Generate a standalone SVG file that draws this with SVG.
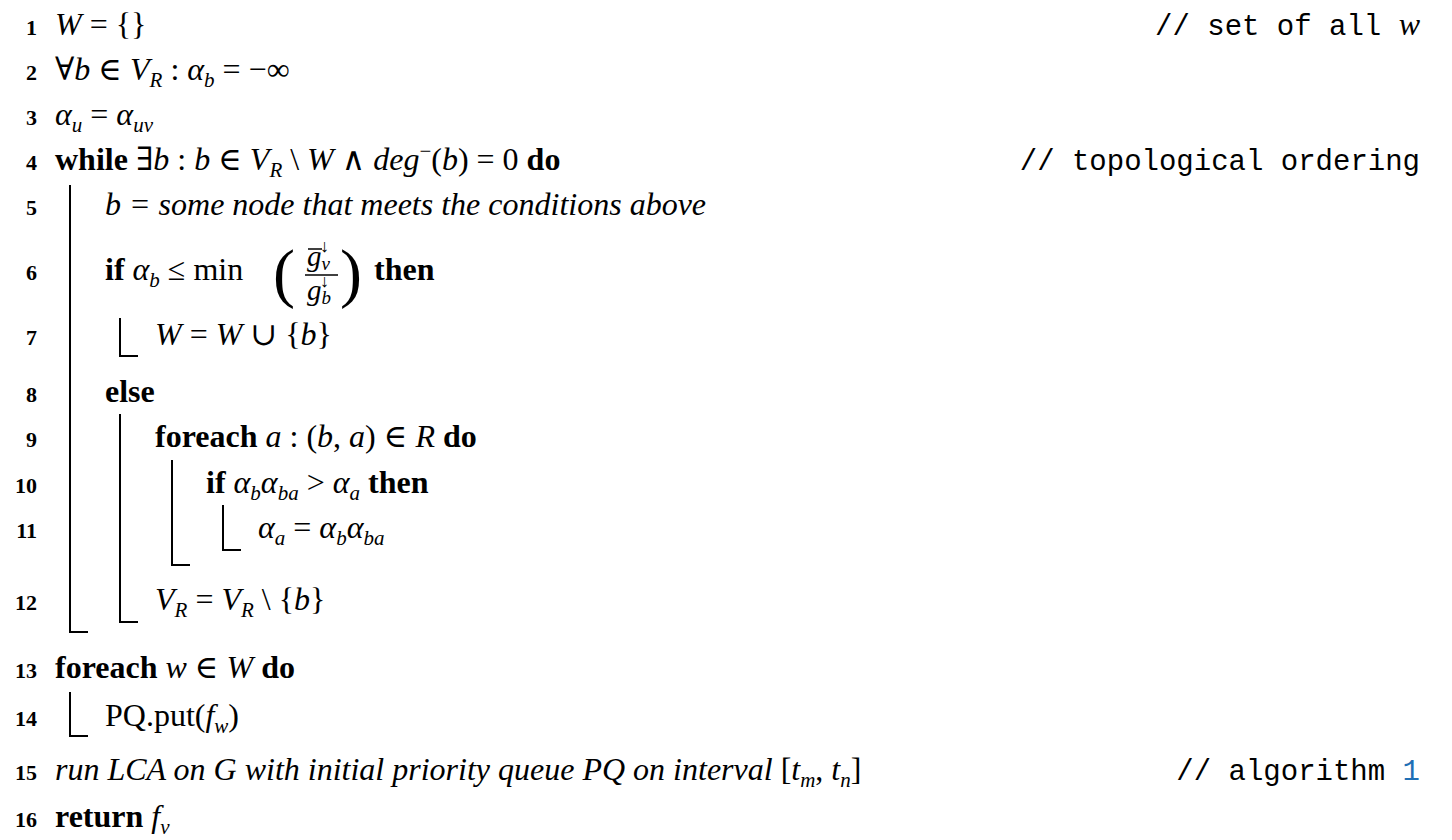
<svg xmlns="http://www.w3.org/2000/svg" width="1452" height="840" viewBox="0 0 1452 840">
<style>
text{font-family:"Liberation Serif","DejaVu Serif",serif;font-size:32px;fill:#000}
.n{font-size:22px;font-weight:bold;text-anchor:end}
.b{font-weight:bold}
.i{font-style:italic}
.s{font-size:21px}
.c{font-family:"Liberation Mono","DejaVu Sans Mono",monospace;font-size:29px;text-anchor:end}
.l{stroke:#000;stroke-width:2;fill:none}
</style>
<rect width="1452" height="840" fill="#fff"/>
<g id="numbers">
<text class="n" x="37" y="35">1</text><text class="n" x="37" y="80">2</text><text class="n" x="37" y="125">3</text><text class="n" x="37" y="170">4</text><text class="n" x="37" y="215">5</text><text class="n" x="37" y="280">6</text><text class="n" x="37" y="345">7</text><text class="n" x="37" y="402">8</text><text class="n" x="37" y="447">9</text><text class="n" x="37" y="493">10</text><text class="n" x="37" y="538">11</text><text class="n" x="37" y="610">12</text><text class="n" x="37" y="678">13</text><text class="n" x="37" y="726">14</text><text class="n" x="37" y="780">15</text><text class="n" x="37" y="827">16</text>
</g>
<g id="blocks">
<path class="l" d="M70 185V632H88"/>
<path class="l" d="M120 318V356H138"/>
<path class="l" d="M120 414V622H138"/>
<path class="l" d="M172 460V565H190"/>
<path class="l" d="M223 505V550H241"/>
<path class="l" d="M70 692V736H88"/>
</g>
<g id="code">
<text x="55" y="35"><tspan class="i">W</tspan> = {}</text>
<text class="c" x="1420" y="35">// set of all <tspan style="font-family:'Liberation Serif',serif;font-style:italic;font-size:32px">w</tspan></text>
<text x="55" y="80">∀<tspan class="i">b</tspan> ∈ <tspan class="i">V</tspan><tspan class="i s" dy="7">R</tspan><tspan dy="-7"> : </tspan><tspan class="i">α</tspan><tspan class="i s" dy="7">b</tspan><tspan dy="-7"> = −∞</tspan></text>
<text x="55" y="125"><tspan class="i">α</tspan><tspan class="i s" dy="7">u</tspan><tspan dy="-7"> = </tspan><tspan class="i">α</tspan><tspan class="i s" dy="7">uv</tspan></text>
<text x="55" y="170"><tspan class="b">while</tspan> ∃<tspan class="i">b</tspan> : <tspan class="i">b</tspan> ∈ <tspan class="i">V</tspan><tspan class="i s" dy="7">R</tspan><tspan dy="-7"> \ </tspan><tspan class="i">W</tspan> ∧ <tspan class="i">deg</tspan><tspan class="s" dy="-12">−</tspan><tspan dy="12">(</tspan><tspan class="i">b</tspan>) = 0 <tspan class="b">do</tspan></text>
<text class="c" x="1420" y="170">// topological ordering</text>
<text class="i" x="105" y="215">b = some node that meets the conditions above</text>
<text x="105" y="280"><tspan class="b">if</tspan> <tspan class="i">α</tspan><tspan class="i s" dy="7">b</tspan><tspan dy="-7"> ≤ min</tspan></text>
<text x="273" y="295" style="font-size:66px;font-weight:100">(</text>
<text x="340" y="295" style="font-size:66px;font-weight:100">)</text>
<text class="i" x="307" y="266" style="font-size:29px">g<tspan style="font-size:19px" dy="4">v</tspan></text>
<text x="320" y="252" style="font-size:18px">↓</text>
<line x1="308" y1="249" x2="322" y2="249" stroke="#000" stroke-width="1.5"/>
<line x1="305" y1="275" x2="338" y2="275" stroke="#000" stroke-width="1.5"/>
<text class="i" x="307" y="300" style="font-size:29px">g<tspan style="font-size:19px" dy="4">b</tspan></text>
<text x="320" y="287" style="font-size:18px">↓</text>
<text class="b" x="374" y="280">then</text>
<text x="155" y="345"><tspan class="i">W</tspan> = <tspan class="i">W</tspan> ∪ {<tspan class="i">b</tspan>}</text>
<text class="b" x="105" y="402">else</text>
<text x="155" y="447"><tspan class="b">foreach</tspan> <tspan class="i">a</tspan> : (<tspan class="i">b</tspan>, <tspan class="i">a</tspan>) ∈ <tspan class="i">R</tspan> <tspan class="b">do</tspan></text>
<text x="206" y="493"><tspan class="b">if</tspan> <tspan class="i">α</tspan><tspan class="i s" dy="7">b</tspan><tspan class="i" dy="-7">α</tspan><tspan class="i s" dy="7">ba</tspan><tspan dy="-7"> &gt; </tspan><tspan class="i">α</tspan><tspan class="i s" dy="7">a</tspan><tspan class="b" dy="-7"> then</tspan></text>
<text x="258" y="538"><tspan class="i">α</tspan><tspan class="i s" dy="7">a</tspan><tspan dy="-7"> = </tspan><tspan class="i">α</tspan><tspan class="i s" dy="7">b</tspan><tspan class="i" dy="-7">α</tspan><tspan class="i s" dy="7">ba</tspan></text>
<text x="155" y="610"><tspan class="i">V</tspan><tspan class="i s" dy="7">R</tspan><tspan dy="-7"> = </tspan><tspan class="i">V</tspan><tspan class="i s" dy="7">R</tspan><tspan dy="-7"> \ {</tspan><tspan class="i">b</tspan>}</text>
<text x="55" y="678"><tspan class="b">foreach</tspan> <tspan class="i">w</tspan> ∈ <tspan class="i">W</tspan> <tspan class="b">do</tspan></text>
<text x="105" y="726">PQ.put(<tspan class="i">f</tspan><tspan class="i s" dy="7">w</tspan><tspan dy="-7">)</tspan></text>
<text x="55" y="780"><tspan class="i">run LCA on G with initial priority queue PQ on interval </tspan>[<tspan class="i">t</tspan><tspan class="i s" dy="7">m</tspan><tspan dy="-7">, </tspan><tspan class="i">t</tspan><tspan class="i s" dy="7">n</tspan><tspan dy="-7">]</tspan></text>
<text class="c" x="1420" y="780">// algorithm <tspan fill="#1f6fb5">1</tspan></text>
<text x="55" y="827"><tspan class="b">return</tspan> <tspan class="i">f</tspan><tspan class="i s" dy="7">v</tspan></text>
</g>
</svg>
